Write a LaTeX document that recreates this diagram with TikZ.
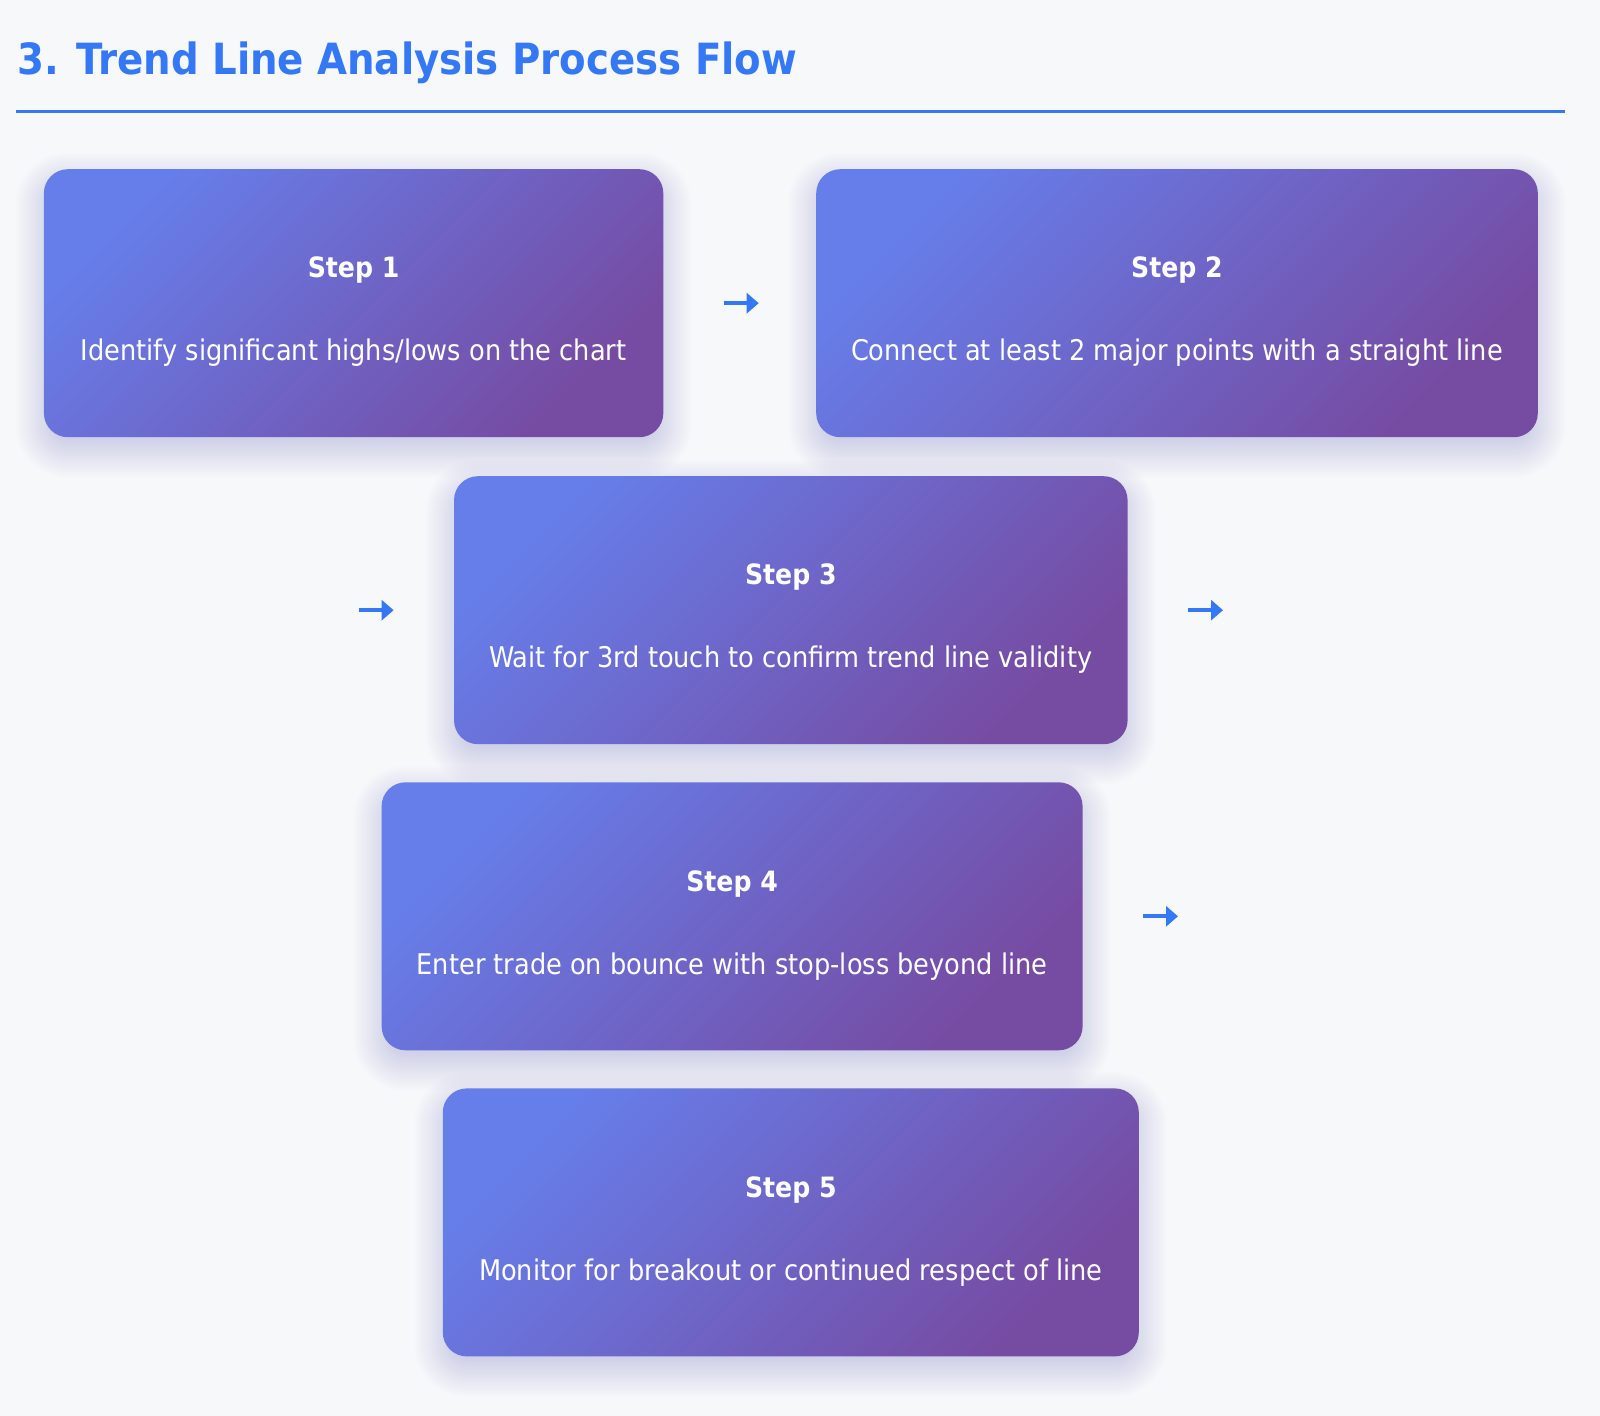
\documentclass[tikz,border=0pt]{standalone}
\usepackage{fontspec}
\setmainfont{DejaVu Sans Condensed}
\definecolor{titleblue}{RGB}{52,120,246}
\definecolor{pagebg}{RGB}{247,248,250}
\definecolor{gradA}{RGB}{102,126,234}
\definecolor{gradB}{RGB}{118,75,162}
\usepackage{tikz}
\usetikzlibrary{arrows.meta, positioning, calc, backgrounds}

\begin{document}
\begin{tikzpicture}[
  x=0.5pt, y=-0.5pt,
  stepbox/.style={rectangle, rounded corners=12pt, minimum width=#1, minimum height=134pt, inner sep=0pt,
    top color=gradA, bottom color=gradB, shading angle=45},
  steplbl/.style={anchor=base, text=white, font=\fontsize{14pt}{16pt}\selectfont\bfseries},
  stepdesc/.style={anchor=base, text=white, font=\fontsize{14.25pt}{17pt}\selectfont},
  titletxt/.style={anchor=base west, text=titleblue, font=\fontsize{21.5pt}{25pt}\selectfont\bfseries, inner sep=0pt},
  titlerule/.style={draw=titleblue, line width=1.5pt},
  flowarr/.style={-{Triangle[length=6pt, width=10pt]}, draw=titleblue, line width=2pt},
]
  \useasboundingbox (0,0) rectangle (1600,1416);

  % heading
  \node[titletxt] (title) at (16.7,75) {3. Trend Line Analysis Process Flow};
  \coordinate (ruleL) at (16,111.5);
  \coordinate (ruleR) at (1565,111.5);
  \draw[titlerule] (ruleL) -- (ruleR);

  % step boxes
  \node[stepbox=309.7pt] (s1) at (353.6,303.2) {};
  \node[stepbox=360.8pt] (s2) at (1177,303.2) {};
  \node[stepbox=336.8pt] (s3) at (790.8,610.2) {};
  \node[stepbox=350.5pt] (s4) at (732.1,916.3) {};
  \node[stepbox=348pt] (s5) at (790.8,1222.4) {};

  \node[steplbl] (l1) at ([yshift=12.6pt]s1.center) {Step 1};
  \node[stepdesc] (d1) at ([yshift=-28.9pt]s1.center) {Identify significant highs/lows on the chart};
  \node[steplbl] (l2) at ([yshift=12.6pt]s2.center) {Step 2};
  \node[stepdesc] (d2) at ([yshift=-28.9pt]s2.center) {Connect at least 2 major points with a straight line};
  \node[steplbl] (l3) at ([yshift=12.6pt]s3.center) {Step 3};
  \node[stepdesc] (d3) at ([yshift=-28.9pt]s3.center) {Wait for 3rd touch to confirm trend line validity};
  \node[steplbl] (l4) at ([yshift=12.6pt]s4.center) {Step 4};
  \node[stepdesc] (d4) at ([yshift=-28.9pt]s4.center) {Enter trade on bounce with stop-loss beyond line};
  \node[steplbl] (l5) at ([yshift=12.6pt]s5.center) {Step 5};
  \node[stepdesc] (d5) at ([yshift=-28.9pt]s5.center) {Monitor for breakout or continued respect of line};

  % arrows between the boxes
  \coordinate[right=30pt of s1.east] (a1s);
  \coordinate[right=47.5pt of s1.east] (a1e);
  \coordinate[left=47.5pt of s3.west] (a2s);
  \coordinate[left=30pt of s3.west] (a2e);
  \coordinate[right=30pt of s3.east] (a3s);
  \coordinate[right=47.5pt of s3.east] (a3e);
  \coordinate[right=30pt of s4.east] (a4s);
  \coordinate[right=47.5pt of s4.east] (a4e);
  \draw[flowarr] (a1s) -- (a1e);
  \draw[flowarr] (a2s) -- (a2e);
  \draw[flowarr] (a3s) -- (a3e);
  \draw[flowarr] (a4s) -- (a4e);

  % page and soft shadows
  \begin{scope}[on background layer]
    \fill[pagebg] (0,0) rectangle (1600,1416);
    \foreach \b in {s1,s2,s3,s4,s5}{
      \foreach \k in {-14,...,14}{
        \pgfmathsetmacro\rr{max(12+\k,1)}
        \fill[gradA, opacity=0.01, rounded corners=\rr pt]
          ([shift={(-\k pt,\k pt-6pt)}]\b.north west) rectangle ([shift={(\k pt,-\k pt-6pt)}]\b.south east);
      }
    }
  \end{scope}
\end{tikzpicture}
\end{document}
